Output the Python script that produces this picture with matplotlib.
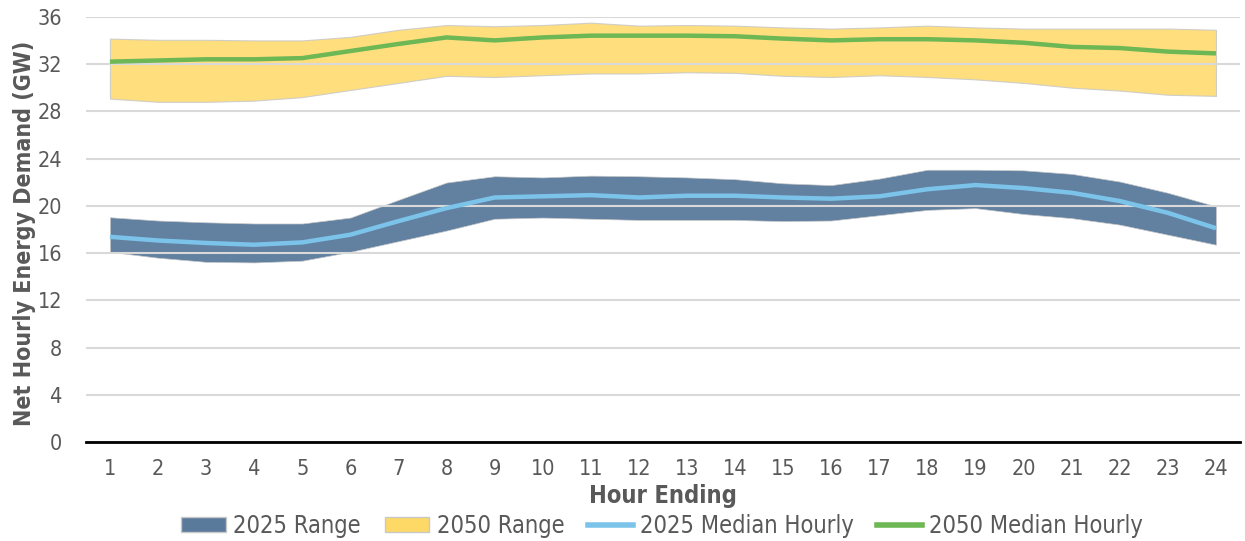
import matplotlib
matplotlib.use("Agg")
import matplotlib.pyplot as plt
from matplotlib.patches import Patch
from matplotlib.lines import Line2D

hours = list(range(1, 25))
y2025_low = [16.1, 15.6, 15.25, 15.2, 15.35, 16.1, 17.0, 17.9, 18.9, 19.0, 18.9, 18.8,
             18.8, 18.8, 18.7, 18.75, 19.2, 19.65, 19.8, 19.3, 18.95, 18.4, 17.55, 16.7]
y2025_high = [19.03, 18.75, 18.6, 18.5, 18.5, 19.0, 20.5, 21.97, 22.5, 22.4, 22.55, 22.5,
              22.4, 22.25, 21.9, 21.75, 22.3, 23.05, 23.05, 23.0, 22.7, 22.05, 21.1, 19.95]
y2025_med = [17.37, 17.06, 16.85, 16.7, 16.9, 17.55, 18.7, 19.8, 20.7, 20.8, 20.9, 20.7,
             20.85, 20.85, 20.7, 20.6, 20.8, 21.4, 21.75, 21.5, 21.1, 20.4, 19.4, 18.1]
y2050_low = [29.07, 28.8, 28.8, 28.9, 29.2, 29.8, 30.4, 31.0, 30.9, 31.05, 31.2, 31.2,
             31.3, 31.25, 31.0, 30.9, 31.05, 30.9, 30.7, 30.4, 30.0, 29.75, 29.4, 29.3]
y2050_high = [34.15, 34.05, 34.05, 34.0, 34.0, 34.3, 34.9, 35.3, 35.2, 35.3, 35.5, 35.25,
              35.3, 35.25, 35.1, 35.0, 35.1, 35.25, 35.1, 35.0, 35.0, 35.0, 35.0, 34.9]
y2050_med = [32.2, 32.3, 32.4, 32.4, 32.5, 33.1, 33.7, 34.25, 34.0, 34.25, 34.4, 34.4,
             34.4, 34.35, 34.15, 34.0, 34.1, 34.1, 34.0, 33.8, 33.45, 33.35, 33.05, 32.9]
y_ticks = list(range(0, 37, 4))

c_2025 = "#5a7a9c"
c_2050 = "#ffd966"
c_med25 = "#7cc3ea"
c_med50 = "#6db754"
txt = "#595959"

plt.rcParams['font.family'] = ['DejaVu Sans']
plt.rcParams['font.stretch'] = 'condensed'
fig = plt.figure(figsize=(12.45, 5.41), dpi=100)
ax = fig.add_axes([0.069, 0.183, 0.927, 0.786])

ax.fill_between(hours, y2050_low, y2050_high, color=c_2050, alpha=0.85,
                edgecolor="#c8c8c8", linewidth=0.8, zorder=2)
ax.fill_between(hours, y2025_low, y2025_high, color=c_2025, alpha=0.95,
                edgecolor="#c8c8c8", linewidth=0.5, zorder=2)
ax.plot(hours, y2025_med, color=c_med25, lw=3.2, zorder=3, solid_capstyle='butt')
ax.plot(hours, y2050_med, color=c_med50, lw=3.2, zorder=3, solid_capstyle='butt')

ax.set_xlim(0.5, 24.5)
ax.set_ylim(0, 36)
ax.set_yticks(y_ticks)
ax.set_xticks(hours)
ax.grid(axis='y', color="#d9d9d9", lw=1.5, zorder=2.5)
ax.set_axisbelow(False)
for s in ['top', 'right', 'left']:
    ax.spines[s].set_visible(False)
ax.spines['bottom'].set_color('black')
ax.spines['bottom'].set_linewidth(2)
ax.spines['bottom'].set_zorder(4)
ax.tick_params(axis='both', length=0, labelsize=15.5, colors=txt)
ax.tick_params(axis='x', pad=12)
ax.tick_params(axis='y', pad=17)

ax.set_xlabel("Hour Ending", fontsize=17, fontweight='bold', color=txt, labelpad=4)
ax.set_ylabel("Net Hourly Energy Demand (GW)", fontsize=16.7, fontweight='bold', color=txt)
ax.yaxis.set_label_coords(-0.043, 0.49)

handles = [Patch(facecolor=c_2025, edgecolor="#c8c8c8"),
           Patch(facecolor=c_2050, edgecolor="#c8c8c8"),
           Line2D([0], [0], color=c_med25, lw=4),
           Line2D([0], [0], color=c_med50, lw=4)]
labels = ["2025 Range", "2050 Range", "2025 Median Hourly", "2050 Median Hourly"]
fig.legend(handles, labels, loc='center', bbox_to_anchor=(0.532, 0.028), ncol=4,
           frameon=False, fontsize=17, labelcolor=txt, handlelength=1.9,
           handleheight=0.6, handletextpad=0.3, columnspacing=1.0)

fig.savefig("out.png", dpi=100)
